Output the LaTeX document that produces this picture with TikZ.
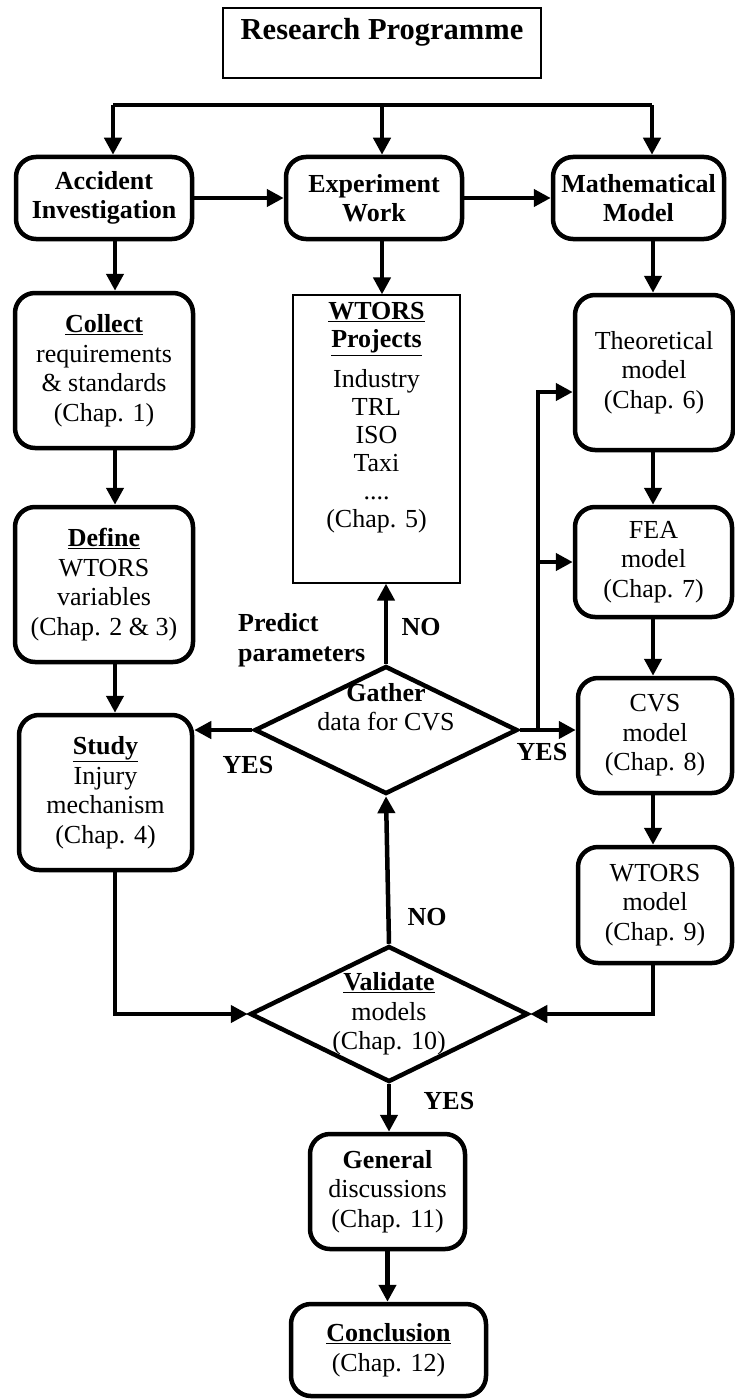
\documentclass[tikz,border=0pt]{standalone}
\usepackage{fontspec}
\setmainfont{Liberation Serif}
\usetikzlibrary{arrows.meta,shapes.geometric}

\begin{document}
\begin{tikzpicture}[x=1pt,y=-1pt,
  every node/.style={font=\fontsize{26}{29.5}\selectfont, align=center},
  box/.style={draw, line width=4.5pt, rounded corners=20pt, inner sep=2pt},
  plain/.style={draw, line width=1.2pt, inner sep=0pt},
  decision/.style={draw, diamond, line width=4.5pt, inner sep=0pt},
  arr/.style={line width=4.5pt, -{Triangle[length=17pt,width=17pt]}},
  lab/.style={font=\fontsize{26}{29.5}\selectfont\bfseries, inner sep=0pt}]

\useasboundingbox (0,0) rectangle (735,1399);

% title
\node[plain, minimum width=318pt, minimum height=70pt] (rp) at (382,43) {};
\node[font=\fontsize{30.5}{34}\selectfont\bfseries] (rptitle) at (382,32) {Research Programme};

% three branches
\node[box, minimum width=176pt, minimum height=82pt] (acc) at (104,198) {\textbf{Accident}\\\textbf{Investigation}};
\node[box, minimum width=176pt, minimum height=82pt] (exp) at (374,198) {\textbf{Experiment}\\\textbf{Work}};
\node[box, minimum width=171pt, minimum height=82pt] (math) at (638.5,198) {\textbf{Mathematical}\\\textbf{Model}};

% left column
\node[box, minimum width=178pt, minimum height=155pt] (collect) at (104,370.5) {\underline{\textbf{Collect}}\\requirements\\\& standards\\(Chap. 1)};
\node[box, minimum width=178pt, minimum height=155pt] (define) at (104,584.5) {\underline{\textbf{Define}}\\WTORS\\variables\\(Chap. 2 \& 3)};
\node[box, minimum width=173pt, minimum height=155pt] (study) at (105.5,792.5) {\underline{\textbf{Study}}\\Injury\\mechanism\\(Chap. 4)};

% middle column
\node[plain, minimum width=167pt, minimum height=288pt] (proj) at (376.5,439) {};
\node[font=\fontsize{26}{28}\selectfont] (projtext) at (376.5,418) {\underline{\textbf{WTORS}}\\\underline{\textbf{Projects}}\\[12pt]Industry\\TRL\\ISO\\Taxi\\....\\(Chap. 5)};
\node[decision, minimum width=263pt, minimum height=128pt] (gather) at (386,730) {};
\node (gathertext) at (386,707) {\textbf{Gather}\\data for CVS};
\node[decision, minimum width=278pt, minimum height=136pt] (valid) at (389,1014) {};
\node (validtext) at (389,1014) {\underline{\textbf{Validate}}\\models\\(Chap. 10)};

% right column
\node[box, minimum width=158pt, minimum height=155pt] (theo) at (654,372.5) {Theoretical\\model\\(Chap. 6)};
\node[box, minimum width=157pt, minimum height=110pt] (fea) at (653.5,562) {FEA\\model\\(Chap. 7)};
\node[box, minimum width=154pt, minimum height=115pt] (cvs) at (655,735.5) {CVS\\model\\(Chap. 8)};
\node[box, minimum width=154pt, minimum height=116pt] (wmodel) at (655,905) {WTORS\\model\\(Chap. 9)};

% bottom
\node[box, minimum width=155pt, minimum height=115pt] (general) at (387.5,1191.5) {\textbf{General}\\discussions\\(Chap. 11)};
\node[box, minimum width=195pt, minimum height=92pt] (concl) at (388.5,1350) {\underline{\textbf{Conclusion}}\\(Chap. 12)};

% labels
\node[lab, align=left, anchor=west] (predict) at (238,640) {Predict\\parameters};
\node[lab] (noup) at (421,627) {NO};
\node[lab] (yesl) at (248,765) {YES};
\node[lab] (yesr) at (542,752) {YES};
\node[lab] (nolow) at (427,917) {NO};
\node[lab] (yesb) at (449,1101) {YES};

\coordinate (busl) at (113,105);
\coordinate (busm) at (382,105);
\coordinate (busr) at (652,105);
\coordinate (lcol) at (115,0);
\coordinate (rcol) at (653,0);
\coordinate (split) at (538,0);

% connectors
\draw[line width=4.5pt] (busl) -- (busr);
\foreach \p/\n in {busl/acc,busm/exp,busr/math}
  \draw[arr] (\p) -- (\p |- \n.north);
\draw[arr] (acc) -- (exp);
\draw[arr] (exp) -- (math);

\foreach \a/\b in {acc/collect,collect/define,define/study}
  \draw[arr] (\a.south -| lcol) -- (\b.north -| lcol);
\foreach \a/\b in {math/theo,theo/fea,fea/cvs,cvs/wmodel}
  \draw[arr] (\a.south -| rcol) -- (\b.north -| rcol);
\draw[arr] (exp.south -| busm) -- (proj.north -| busm);

\draw[arr] (gather.north) -- (gather.north |- proj.south);
\draw[arr] (gather.west) -- (gather.west -| study.east);
\draw[arr] (gather.east) -- (gather.east -| cvs.west);
\draw[arr] (gather.east -| split) |- ([yshift=-19.5pt]theo.west);
\draw[arr] (split |- fea.west) -- (fea.west);

\draw[arr] (valid.north) -- (gather.south);
\draw[arr] (study.south -| lcol) |- (valid.west);
\draw[arr] (wmodel.south -| rcol) |- (valid.east);
\draw[arr] (valid.south) -- (valid.south |- general.north);
\draw[arr] (general.south) -- (general.south |- concl.north);
\end{tikzpicture}
\end{document}
